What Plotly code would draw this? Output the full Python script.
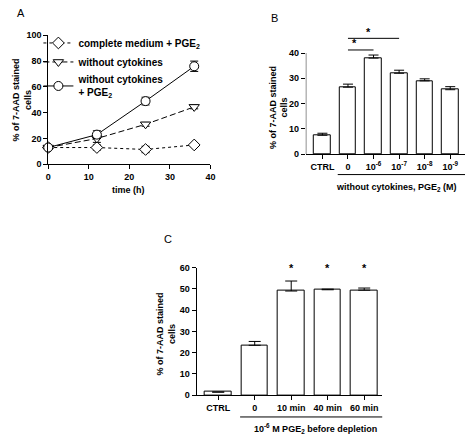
import plotly.graph_objects as go

W, H = 473, 442

# ---------- Panel A data ----------
time_h = [0, 12, 24, 36]
complete_pge2 = [13, 13, 11.5, 15]
complete_pge2_err = [1.5, 2, 2.5, 1]
without_cyto = [13, 20, 31, 44.5]
without_cyto_err = [1.5, 3, 1.5, 1.5]
without_cyto_pge2 = [13, 23, 49, 76]
without_cyto_pge2_err = [1.5, 3, 3, 4]

# ---------- Panel B data ----------
b_labels = ["CTRL", "0", "10<sup>-6</sup>", "10<sup>-7</sup>", "10<sup>-8</sup>", "10<sup>-9</sup>"]
b_values = [7.5, 26.5, 38, 32, 29, 25.5]
b_err = [0.8, 1.2, 1.2, 1.2, 0.8, 1.2]

# ---------- Panel C data ----------
c_labels = ["CTRL", "0", "10 min", "40 min", "60 min"]
c_values = [1.5, 23.5, 49, 49.6, 49.4]
c_err = [0, 1.8, 4.7, 0.3, 1.0]

def fx(px):
    return px / W

def fy(py):
    return 1 - py / H

FONT = dict(family="Liberation Sans, Arial, sans-serif", size=9, color="black", weight="bold")
LEGFONT = dict(FONT, size=10)

fig = go.Figure()

# Panel A traces
fig.add_trace(go.Scatter(
    x=time_h, y=complete_pge2, name="complete medium + PGE<sub>2</sub>",
    mode="lines+markers", line=dict(color="black", width=1, dash="3px,3px"),
    marker=dict(symbol="diamond", size=9, color="white", line=dict(color="black", width=1)),
    error_y=dict(type="data", array=complete_pge2_err, color="black", thickness=1, width=4),
    xaxis="x", yaxis="y", cliponaxis=False))
fig.add_trace(go.Scatter(
    x=time_h, y=without_cyto, name="without cytokines",
    mode="lines+markers", line=dict(color="black", width=1, dash="6px,3px"),
    marker=dict(symbol="triangle-down", size=9, color="white", line=dict(color="black", width=1)),
    error_y=dict(type="data", array=without_cyto_err, color="black", thickness=1, width=4),
    xaxis="x", yaxis="y", cliponaxis=False))
fig.add_trace(go.Scatter(
    x=time_h, y=without_cyto_pge2, name="without cytokines<br>+ PGE<sub>2</sub>",
    mode="lines+markers", line=dict(color="black", width=1),
    marker=dict(symbol="circle", size=9, color="white", line=dict(color="black", width=1)),
    error_y=dict(type="data", array=without_cyto_pge2_err, color="black", thickness=1, width=4),
    xaxis="x", yaxis="y", cliponaxis=False))

# Panel B bars
b_x = list(range(len(b_values)))
fig.add_trace(go.Bar(
    x=b_x, y=b_values, width=0.65, marker=dict(color="white", line=dict(color="black", width=1)),
    error_y=dict(type="data", array=b_err, arrayminus=[0] * len(b_err), symmetric=False,
                 color="black", thickness=1, width=5),
    xaxis="x2", yaxis="y2", showlegend=False, cliponaxis=False))

# Panel C bars
c_x = list(range(len(c_values)))
fig.add_trace(go.Bar(
    x=c_x, y=c_values, width=0.72, marker=dict(color="white", line=dict(color="black", width=1)),
    error_y=dict(type="data", array=c_err, arrayminus=[0] * len(c_err), symmetric=False,
                 color="black", thickness=1, width=6),
    xaxis="x3", yaxis="y3", showlegend=False, cliponaxis=False))

axis_common = dict(showline=True, linecolor="black", linewidth=1, ticks="outside", ticklen=4,
                   tickcolor="black", tickwidth=1, showgrid=False, zeroline=False,
                   tickfont=FONT)

B_RANGE = [-0.65, 5.58]
C_RANGE = [-0.59, 4.5]

fig.update_layout(
    width=W, height=H, margin=dict(l=0, r=0, t=0, b=0),
    paper_bgcolor="white", plot_bgcolor="white", font=FONT,
    bargap=0,
    xaxis=dict(domain=[fx(46), fx(211)], range=[0, 40], tickvals=[0, 10, 20, 30, 40],
               anchor="y", **axis_common),
    yaxis=dict(domain=[fy(163), fy(31)], range=[0, 100], tickvals=[0, 20, 40, 60, 80, 100],
               anchor="x", **axis_common),
    xaxis2=dict(domain=[fx(308), fx(470)], range=B_RANGE, tickvals=b_x, ticktext=b_labels,
                anchor="y2", **axis_common),
    yaxis2=dict(domain=[fy(152.7), fy(31)], range=[0, 47], tickvals=[0, 10, 20, 30, 40],
                anchor="x2", **{**axis_common, "showline": False}),
    xaxis3=dict(domain=[fx(197), fx(386)], range=C_RANGE, tickvals=c_x, ticktext=c_labels,
                anchor="y3", **axis_common),
    yaxis3=dict(domain=[fy(399.3), fy(268.7)], range=[0, 60], tickvals=[0, 10, 20, 30, 40, 50, 60],
                anchor="x3", **axis_common),
    legend=dict(x=fx(36), y=fy(24), xanchor="left", yanchor="top", bgcolor="rgba(0,0,0,0)",
                font=LEGFONT, tracegroupgap=0, itemwidth=30),
    showlegend=True,
)

shapes = []
# Panel B y axis line only from 0 to 40
shapes.append(dict(type="line", xref="x2", yref="y2", x0=B_RANGE[0], x1=B_RANGE[0], y0=0, y1=40,
                   line=dict(color="black", width=1)))
# significance lines in B
shapes.append(dict(type="line", xref="x2", yref="y2", x0=1, x1=2, y0=41.2, y1=41.2,
                   line=dict(color="black", width=1)))
shapes.append(dict(type="line", xref="x2", yref="y2", x0=1, x1=3, y0=45.8, y1=45.8,
                   line=dict(color="black", width=1)))
# Underline for B group label
shapes.append(dict(type="line", xref="x2", yref="paper", x0=0.6, x1=B_RANGE[1], y0=fy(173.5), y1=fy(173.5),
                   line=dict(color="black", width=1)))
# Underline for C group label
shapes.append(dict(type="line", xref="x3", yref="paper", x0=0.6, x1=C_RANGE[1], y0=fy(421.5), y1=fy(421.5),
                   line=dict(color="black", width=1)))
fig.update_layout(shapes=shapes)

ann = []
def A(text, x, y, xref="paper", yref="paper", size=9, angle=0, xanchor="center", yanchor="middle", weight="bold"):
    f = dict(FONT)
    f["size"] = size
    f["weight"] = weight
    ann.append(dict(text=text, x=x, y=y, xref=xref, yref=yref, showarrow=False, font=f,
                    textangle=angle, xanchor=xanchor, yanchor=yanchor))

# panel letters
A("A", fx(18), fy(8), size=11, weight="normal")
A("B", fx(276), fy(13), size=11, weight="normal")
A("C", fx(168), fy(239), size=11, weight="normal")
# y titles
A("% of 7-AAD stained<br>cells", fx(19), fy(97), angle=-90)
A("% of 7-AAD stained<br>cells", fx(280), fy(105), angle=-90)
A("% of 7-AAD stained<br>cells", fx(166), fy(337), angle=-90)
# x titles
A("time (h)", fx(128), fy(189))
A("without cytokines, PGE<sub>2</sub> (M)", fx(400), fy(187))
A("10<sup>-6</sup> M PGE<sub>2</sub> before depletion", fx(318), fy(433))
# asterisks B
A("*", 1.25, 40.6, xref="x2", yref="y2", yanchor="bottom", size=11)
A("*", 1.8, 45.2, xref="x2", yref="y2", yanchor="bottom", size=11)
# asterisks C
for i in [2, 3, 4]:
    A("*", i, 56, xref="x3", yref="y3", yanchor="bottom", size=11)
fig.update_layout(annotations=ann)

fig.write_html("out.html", config={"displayModeBar": False},
               post_script="document.body.style.margin='0';")
